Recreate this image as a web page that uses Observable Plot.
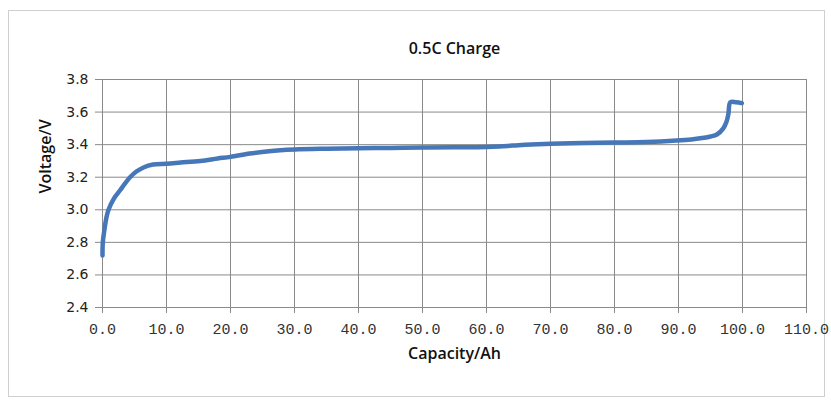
<!DOCTYPE html>
<html>
<head>
<meta charset="utf-8">
<script src="https://cdn.jsdelivr.net/npm/d3@7"></script>
<script src="https://cdn.jsdelivr.net/npm/@observablehq/plot@0.6"></script>
<style>
  html, body { margin: 0; padding: 0; background: #fff; }
  #wrap { position: relative; width: 831px; height: 401px; }
  #border { position: absolute; left: 8px; top: 10px; width: 817px; height: 387px; border: 1px solid #cfcfcf; box-sizing: border-box; pointer-events: none; }
</style>
</head>
<body>
<div id="wrap"><div id="border"></div></div>
<script>
const title = "0.5C Charge";
const xLabel = "Capacity/Ah";
const yLabel = "Voltage/V";
const xTicks = [0, 10, 20, 30, 40, 50, 60, 70, 80, 90, 100, 110];
const yTicks = [2.4, 2.6, 2.8, 3.0, 3.2, 3.4, 3.6, 3.8];
const capacity = [0, 0.05, 0.27, 0.6, 0.94, 1.8, 2.75, 3.5, 4.3, 5.3, 6.4, 7.9, 10, 12.2, 15.3, 18, 20, 23, 26, 30, 35, 40, 45, 50, 55, 60, 62, 64, 66, 68, 70, 75, 80, 85, 89.7, 92, 94, 95, 96, 97, 97.5, 97.8, 98.1, 99, 99.9];
const voltage  = [2.72, 2.80, 2.87, 2.95, 3.0, 3.07, 3.12, 3.16, 3.20, 3.235, 3.26, 3.278, 3.283, 3.29, 3.30, 3.315, 3.325, 3.345, 3.36, 3.37, 3.375, 3.378, 3.38, 3.383, 3.384, 3.386, 3.389, 3.394, 3.399, 3.403, 3.406, 3.41, 3.413, 3.416, 3.425, 3.432, 3.442, 3.45, 3.462, 3.50, 3.54, 3.59, 3.66, 3.66, 3.655];

const data = capacity.map((c, i) => ({c, v: voltage[i]}));
const labelFont = "Open Sans, DejaVu Sans";

const chart = Plot.plot({
  width: 831,
  height: 401,
  marginLeft: 102,
  marginRight: 25,
  marginTop: 79,
  marginBottom: 94,
  style: {background: "transparent", overflow: "visible"},
  x: {domain: [0, 110], ticks: xTicks, tickFormat: d => d.toFixed(1), label: null},
  y: {domain: [2.4, 3.8], ticks: yTicks, tickFormat: d => d.toFixed(1), label: null},
  marks: [
    Plot.gridX(xTicks, {stroke: "#8a8a8a", strokeOpacity: 1, strokeWidth: 1}),
    Plot.gridY(yTicks, {stroke: "#8a8a8a", strokeOpacity: 1, strokeWidth: 1}),
    Plot.axisX({ticks: xTicks, tickFormat: d => d.toFixed(1), tickSize: 6, tickPadding: 10, stroke: "#8a8a8a", fill: "#333", fontSize: 15, fontFamily: "Liberation Mono", label: null}),
    Plot.axisY({ticks: yTicks, tickFormat: d => d.toFixed(1), tickSize: 7, tickPadding: 7, stroke: "#8a8a8a", fill: "#222", fontSize: 14, fontFamily: "DejaVu Sans", label: null}),
    Plot.line(data, {x: "c", y: "v", stroke: "#4677b8", strokeWidth: 4.5, curve: "catmull-rom", strokeLinejoin: "round", strokeLinecap: "round"}),
    Plot.text([title], {frameAnchor: "top", dy: -37, fontSize: 16, fontWeight: 600, fontFamily: labelFont, fill: "#111", text: d => d}),
    Plot.text([xLabel], {frameAnchor: "bottom", dy: 51, fontSize: 16, fontWeight: 600, fontFamily: labelFont, fill: "#111", text: d => d}),
    Plot.text([yLabel], {frameAnchor: "left", dx: -57, rotate: -90, fontSize: 16, fontWeight: 600, fontFamily: labelFont, fill: "#111", text: d => d})
  ]
});
chart.style.position = "absolute";
chart.style.left = "0px";
chart.style.top = "0px";
document.getElementById("wrap").appendChild(chart);
</script>
</body>
</html>
